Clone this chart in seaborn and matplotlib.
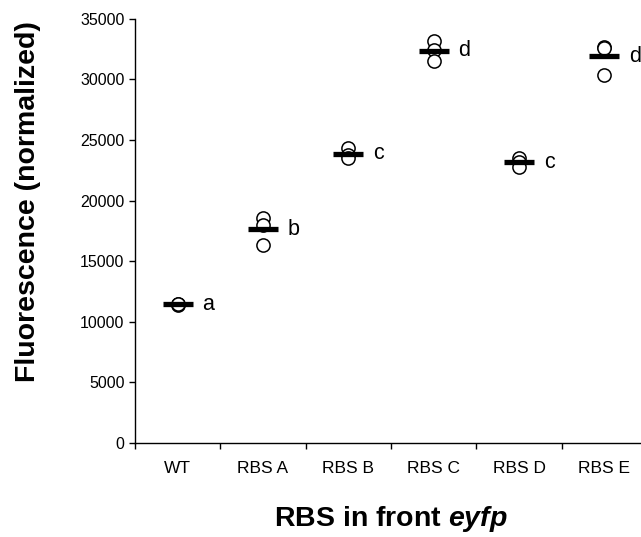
import matplotlib
matplotlib.use("Agg")
import matplotlib.pyplot as plt
import numpy as np
import pandas as pd
import seaborn as sns

# %% DATA
strains = ["WT", "RBS A", "RBS B", "RBS C", "RBS D", "RBS E"]
rep1 = [11400, 18550, 24300, 33200, 23550, 32700]
rep2 = [11500, 18000, 23800, 32450, 23150, 32600]
rep3 = [11450, 16350, 23500, 31500, 22800, 30400]
letters = ["a", "b", "c", "d", "c", "d"]

df = pd.DataFrame({
    "strain": strains * 3,
    "fluor": rep1 + rep2 + rep3,
})
df["strain"] = pd.Categorical(df["strain"], categories=strains, ordered=True)

# %% PLOT
sns.set_theme(style="ticks")
plt.rcParams["font.family"] = ["Liberation Sans", "DejaVu Sans"]
plt.rcParams["text.color"] = "black"
plt.rcParams["axes.labelcolor"] = "black"
plt.rcParams["xtick.color"] = "black"
plt.rcParams["ytick.color"] = "black"
plt.rcParams["mathtext.fontset"] = "custom"
plt.rcParams["mathtext.it"] = "Liberation Sans:bold:italic"

fig = plt.figure(figsize=(6.41, 5.37), dpi=100)
ax = fig.add_axes([0.2106, 0.175, 0.799, 0.79])

sns.stripplot(data=df, x="strain", y="fluor", jitter=False, ax=ax,
              marker="o", size=9.5, color="white", edgecolor="black",
              linewidth=1.1, zorder=2)
sns.pointplot(data=df, x="strain", y="fluor", estimator="mean", errorbar=None,
              linestyle="none", marker="_", markersize=21, markeredgewidth=3.8,
              color="black", ax=ax, zorder=3)

means = df.groupby("strain", observed=True)["fluor"].mean()
for i, s in enumerate(strains):
    ax.text(i + 0.29, means[s], letters[i], ha="left", va="center", fontsize=15.5)

ax.set_xlim(-0.5, 5.5)
ax.set_ylim(0, 35000)
ax.set_yticks(np.arange(0, 35001, 5000))
ax.set_xticks(range(len(strains)))
ax.set_xticks(np.arange(-0.5, 6, 1), minor=True)
ax.tick_params(axis="x", which="major", length=0, labelsize=12.5, pad=13)
ax.tick_params(axis="x", which="minor", length=4, width=1, color="black")
ax.tick_params(axis="y", length=4, width=1, labelsize=11.5, color="black")
for side in ["top", "right"]:
    ax.spines[side].set_visible(False)
for side in ["left", "bottom"]:
    ax.spines[side].set_color("black")
    ax.spines[side].set_linewidth(1)

ax.set_xlabel("RBS in front $\\it{eyfp}$", fontsize=20.5, fontweight="bold")
ax.set_ylabel("Fluorescence (normalized)", fontsize=20.5, fontweight="bold")
ax.xaxis.set_label_coords(0.499, -0.18)
ax.yaxis.set_label_coords(-0.209, 0.568)
ax.xaxis.label.set_va("center")
ax.yaxis.label.set_va("center")

fig.savefig("out.png", dpi=100)
